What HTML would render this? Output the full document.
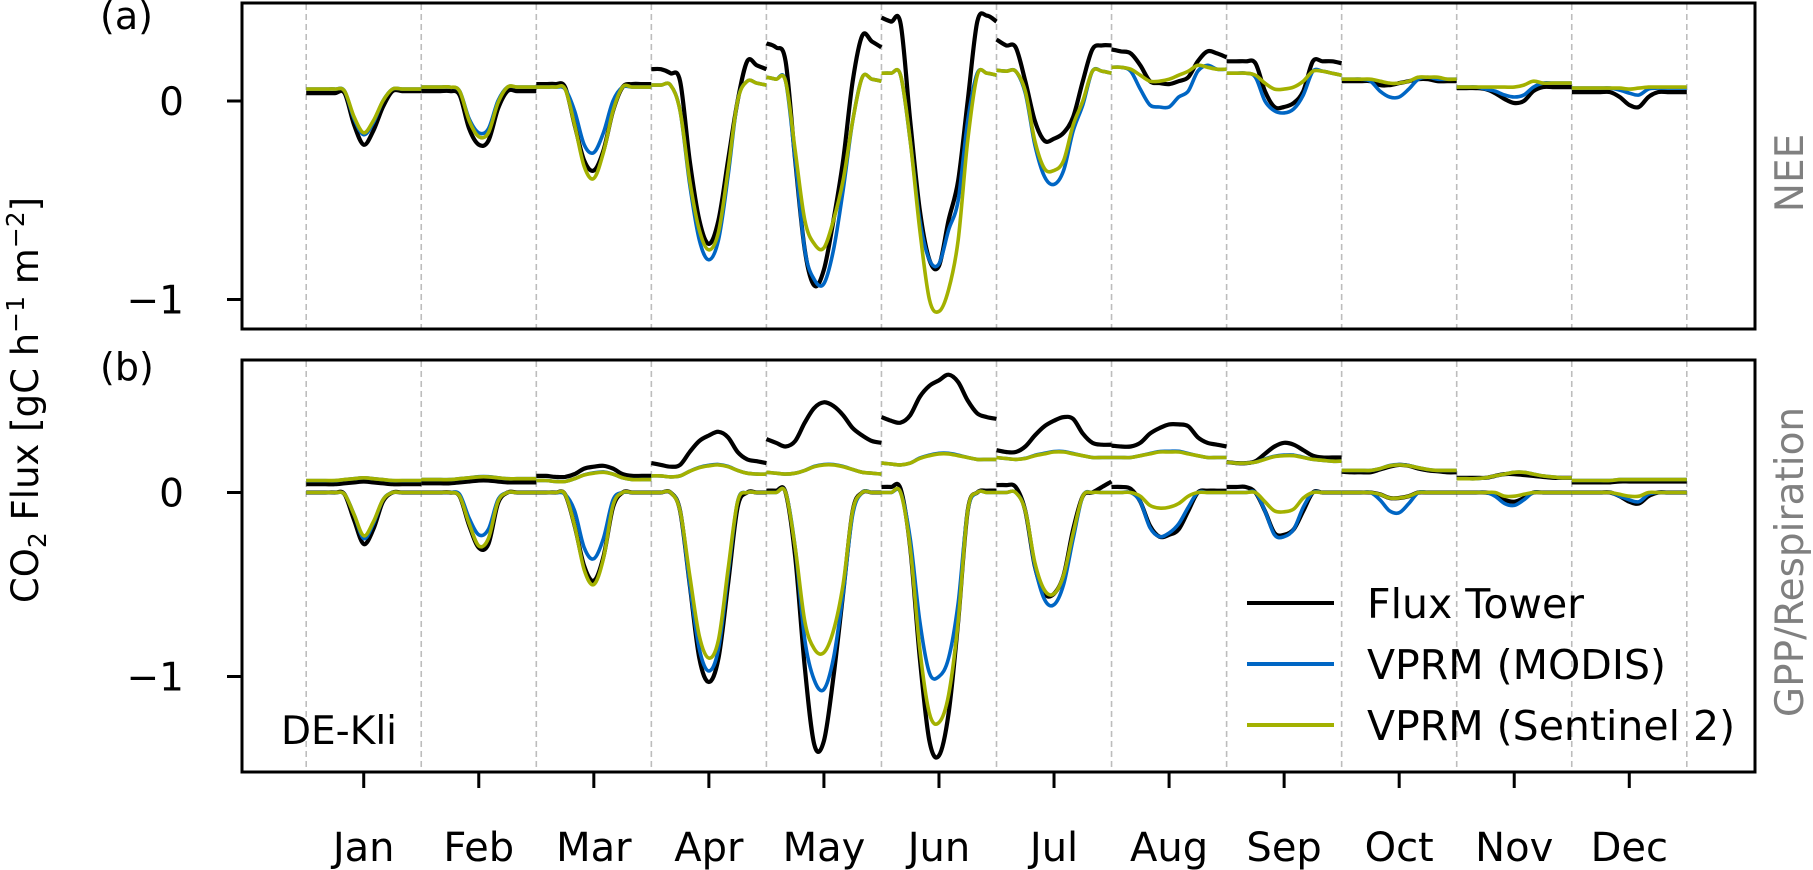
<!DOCTYPE html>
<html><head><meta charset="utf-8"><title>CO2 flux diurnal cycles DE-Kli</title>
<style>
html,body{margin:0;padding:0;background:#fff;}
svg{display:block;font-family:"DejaVu Sans","Liberation Sans",sans-serif;}
</style></head>
<body>
<svg id="chart" xmlns="http://www.w3.org/2000/svg" width="1813" height="870" viewBox="0 0 1813 870">
<g id="grid"></g>
<g id="series"></g>
<rect x="242" y="3" width="1513" height="326" fill="none" stroke="#000" stroke-width="3"/>
<rect x="242" y="360" width="1513" height="412" fill="none" stroke="#000" stroke-width="3"/>
<g id="axes"></g>
<text x="100" y="29" font-size="38">(a)</text>
<text x="100" y="380" font-size="38">(b)</text>
<text transform="translate(38,400) rotate(-90)" text-anchor="middle" font-size="37">CO<tspan font-size="25" dy="8">2</tspan><tspan dy="-8"> Flux [gC h</tspan><tspan font-size="25" dy="-14">−1</tspan><tspan dy="14"> m</tspan><tspan font-size="25" dy="-14">−2</tspan><tspan dy="14">]</tspan></text>
<text transform="translate(1803,173) rotate(-90)" text-anchor="middle" font-size="39" fill="#808080">NEE</text>
<text transform="translate(1803,562) rotate(-90)" text-anchor="middle" font-size="39" fill="#808080">GPP/Respiration</text>
<text x="281" y="744" font-size="39">DE-Kli</text>
<g>
<line x1="1247" y1="603" x2="1334" y2="603" stroke="#000" stroke-width="4"/>
<text x="1367" y="618" font-size="41">Flux Tower</text>
<line x1="1247" y1="664" x2="1334" y2="664" stroke="#0066c4" stroke-width="4"/>
<text x="1367" y="679" font-size="41">VPRM (MODIS)</text>
<line x1="1247" y1="725" x2="1334" y2="725" stroke="#a3b100" stroke-width="4"/>
<text x="1367" y="740" font-size="41">VPRM (Sentinel 2)</text>
</g>
</svg>
<script>
const months = ['Jan','Feb','Mar','Apr','May','Jun','Jul','Aug','Sep','Oct','Nov','Dec'];
const hours = [0,2,4,6,8,10,12,14,16,18,20,22,24];
const yTicks = [0,-1];
const yTickLabels = ['0','−1'];
// NEE panel (a)
const neeTower = [
[.04,.04,.04,.04,.04,-.12,-.22,-.15,-.03,.05,.05,.05,.05],
[.05,.05,.05,.05,.03,-.14,-.22,-.2,-.04,.05,.05,.05,.05],
[.085,.085,.085,.07,-.12,-.3,-.35,-.25,-.05,.07,.085,.085,.085],
[.16,.16,.14,.1,-.3,-.6,-.72,-.6,-.3,0,.2,.18,.16],
[.29,.27,.2,-.3,-.75,-.93,-.85,-.6,-.3,.1,.33,.3,.27],
[.42,.4,.39,-.1,-.55,-.8,-.83,-.6,-.4,0,.4,.43,.4],
[.31,.28,.27,.1,-.1,-.2,-.19,-.16,-.08,.1,.26,.28,.28],
[.26,.25,.24,.18,.1,.09,.085,.1,.12,.2,.25,.24,.22],
[.2,.2,.2,.19,.05,-.03,-.03,-.01,.05,.2,.2,.2,.19],
[.1,.1,.1,.1,.08,.08,.09,.1,.11,.11,.1,.1,.1],
[.065,.065,.065,.06,.04,.01,-.01,0,.05,.07,.07,.07,.07],
[.045,.045,.045,.045,.045,.02,-.02,-.03,.02,.045,.045,.045,.045]];
const neeModis = [
[.06,.06,.06,.06,.05,-.09,-.17,-.11,0,.06,.06,.06,.06],
[.07,.07,.07,.07,.05,-.09,-.16,-.14,0,.07,.07,.07,.07],
[.07,.07,.07,.06,-.05,-.22,-.26,-.16,0,.07,.07,.07,.07],
[.08,.08,.08,-.05,-.42,-.7,-.8,-.7,-.38,0,.1,.09,.08],
[.12,.11,.1,-.3,-.75,-.9,-.92,-.75,-.45,-.1,.12,.11,.1],
[.14,.14,.13,-.2,-.6,-.8,-.82,-.65,-.5,-.1,.14,.14,.13],
[.155,.15,.15,.04,-.22,-.38,-.42,-.35,-.15,-.02,.15,.15,.14],
[.17,.17,.15,.06,-.02,-.03,-.03,.02,.05,.15,.18,.16,.16],
[.14,.14,.14,.12,0,-.05,-.06,-.04,.03,.15,.15,.14,.13],
[.11,.11,.11,.1,.05,.02,.02,.06,.11,.12,.11,.11,.11],
[.07,.07,.07,.06,.05,.03,.02,.03,.07,.09,.09,.09,.09],
[.065,.065,.065,.065,.065,.055,.04,.03,.06,.065,.065,.065,.065]];
const neeSentinel = [
[.06,.06,.06,.06,.05,-.08,-.16,-.1,0,.06,.06,.06,.06],
[.07,.07,.07,.07,.05,-.1,-.18,-.16,-.01,.07,.07,.07,.07],
[.07,.07,.07,.06,-.12,-.33,-.39,-.26,-.05,.07,.07,.07,.07],
[.08,.08,.08,-.05,-.4,-.65,-.75,-.66,-.35,0,.1,.09,.08],
[.12,.11,.1,-.25,-.6,-.72,-.74,-.6,-.4,-.1,.12,.11,.1],
[.14,.14,.13,-.2,-.65,-1,-1.06,-.95,-.7,-.2,.13,.14,.13],
[.155,.15,.15,.05,-.2,-.34,-.35,-.3,-.12,0,.15,.15,.14],
[.17,.17,.16,.13,.1,.1,.11,.13,.15,.18,.17,.16,.16],
[.14,.14,.14,.13,.09,.06,.06,.07,.1,.15,.15,.14,.13],
[.11,.11,.11,.11,.1,.09,.09,.1,.12,.12,.12,.11,.11],
[.07,.07,.07,.07,.07,.07,.07,.08,.1,.09,.09,.09,.09],
[.065,.065,.065,.065,.065,.065,.06,.065,.07,.07,.07,.07,.07]];
// GPP panel (b)
const gppTower = [
[0,0,0,0,-.01,-.15,-.28,-.2,-.05,0,0,0,0],
[0,0,0,0,-.02,-.18,-.3,-.28,-.06,0,0,0,0],
[0,0,0,-.01,-.18,-.4,-.48,-.35,-.08,0,0,0,0],
[0,0,0,-.1,-.5,-.9,-1.03,-.9,-.5,-.08,0,0,0],
[.01,.01,0,-.35,-.95,-1.37,-1.35,-1,-.55,-.1,0,0,0],
[.03,.03,.02,-.3,-.9,-1.35,-1.43,-1.2,-.7,-.1,0,.01,.01],
[.04,.04,.03,-.1,-.4,-.55,-.55,-.45,-.2,-.02,0,.03,.06],
[.03,.03,.02,-.05,-.18,-.24,-.23,-.2,-.1,0,.01,.01,.01],
[.03,.03,.03,0,-.1,-.22,-.23,-.2,-.1,0,0,0,0],
[0,0,0,0,-.01,-.03,-.03,-.02,0,0,0,0,0],
[0,0,0,0,-.01,-.04,-.05,-.03,0,0,0,0,0],
[0,0,0,0,0,-.02,-.05,-.06,-.02,0,0,0,0]];
const gppModis = [
[0,0,0,0,-.01,-.12,-.25,-.17,-.04,0,0,0,0],
[0,0,0,0,-.01,-.14,-.23,-.2,-.04,0,0,0,0],
[0,0,0,-.01,-.1,-.3,-.36,-.25,-.04,0,0,0,0],
[0,0,0,-.1,-.5,-.85,-.97,-.85,-.45,-.05,0,0,0],
[0,0,0,-.3,-.8,-1.02,-1.07,-.9,-.55,-.12,0,0,0],
[0,0,0,-.25,-.7,-.98,-1,-.9,-.6,-.1,0,0,0],
[0,0,0,-.1,-.4,-.58,-.61,-.5,-.25,-.02,0,0,0],
[0,0,0,-.05,-.19,-.24,-.22,-.17,-.08,0,0,0,0],
[0,0,0,0,-.1,-.23,-.24,-.2,-.08,0,0,0,0],
[0,0,0,0,-.04,-.1,-.11,-.06,0,0,0,0,0],
[0,0,0,0,-.02,-.06,-.07,-.04,0,0,0,0,0],
[0,0,0,0,0,-.02,-.04,-.05,-.01,0,0,0,0]];
const gppSentinel = [
[0,0,0,0,-.01,-.12,-.235,-.16,-.04,0,0,0,0],
[0,0,0,0,-.02,-.17,-.29,-.25,-.05,0,0,0,0],
[0,0,0,-.01,-.18,-.42,-.5,-.36,-.07,0,0,0,0],
[0,0,0,-.1,-.45,-.78,-.9,-.8,-.42,-.05,0,0,0],
[0,0,0,-.3,-.7,-.85,-.87,-.75,-.5,-.1,0,0,0],
[0,0,0,-.3,-.85,-1.2,-1.25,-1.1,-.7,-.1,0,0,0],
[0,0,0,-.1,-.38,-.53,-.55,-.45,-.22,-.02,0,0,0],
[0,0,0,-.02,-.07,-.085,-.08,-.06,-.02,0,0,0,0],
[0,0,0,0,-.05,-.1,-.105,-.09,-.03,0,0,0,0],
[0,0,0,0,-.01,-.03,-.03,-.02,0,0,0,0,0],
[0,0,0,0,0,-.02,-.02,-.01,0,0,0,0,0],
[0,0,0,0,0,-.01,-.02,-.02,0,0,0,0,0]];
// Respiration panel (b)
const respTower = [
[.045,.045,.045,.045,.05,.055,.06,.055,.05,.045,.045,.045,.045],
[.05,.05,.05,.05,.055,.06,.065,.065,.06,.055,.055,.055,.055],
[.09,.09,.085,.085,.1,.13,.14,.145,.13,.1,.09,.09,.09],
[.16,.15,.14,.15,.22,.28,.31,.33,.3,.22,.18,.17,.16],
[.29,.27,.25,.28,.38,.46,.49,.47,.42,.35,.31,.28,.27],
[.41,.39,.38,.42,.52,.58,.61,.64,.6,.5,.43,.41,.4],
[.23,.22,.22,.25,.31,.36,.39,.41,.4,.32,.27,.26,.26],
[.255,.25,.25,.27,.32,.35,.37,.37,.36,.3,.27,.26,.25],
[.165,.16,.16,.17,.21,.25,.27,.26,.23,.2,.19,.19,.19],
[.113,.11,.11,.11,.125,.14,.15,.145,.13,.12,.115,.11,.11],
[.08,.08,.08,.08,.09,.1,.1,.095,.09,.085,.08,.08,.08],
[.055,.055,.055,.055,.055,.06,.06,.06,.06,.06,.06,.06,.06]];
const respModis = [
[.064,.064,.064,.064,.07,.075,.08,.075,.07,.064,.064,.064,.064],
[.07,.07,.07,.07,.075,.08,.086,.086,.08,.075,.075,.075,.075],
[.065,.065,.06,.06,.075,.096,.107,.112,.1,.08,.07,.07,.07],
[.09,.09,.085,.09,.116,.137,.148,.152,.142,.12,.105,.1,.1],
[.11,.105,.1,.105,.12,.142,.152,.152,.142,.125,.11,.105,.1],
[.16,.155,.15,.16,.187,.203,.213,.213,.203,.19,.18,.18,.18],
[.19,.185,.18,.186,.202,.213,.223,.223,.212,.2,.19,.19,.19],
[.19,.19,.19,.2,.212,.223,.224,.224,.212,.2,.19,.19,.19],
[.165,.16,.16,.165,.182,.197,.203,.203,.192,.18,.175,.17,.17],
[.12,.12,.12,.12,.13,.147,.152,.147,.135,.125,.12,.12,.12],
[.075,.075,.075,.08,.09,.1,.11,.11,.1,.09,.085,.08,.08],
[.065,.065,.065,.065,.065,.07,.07,.07,.07,.07,.07,.07,.07]];
const respSentinel = [
[.065,.065,.065,.065,.07,.075,.08,.075,.07,.065,.065,.065,.065],
[.07,.07,.07,.07,.075,.08,.085,.085,.08,.075,.075,.075,.075],
[.065,.065,.06,.06,.075,.095,.105,.11,.1,.08,.07,.07,.07],
[.09,.09,.085,.09,.115,.135,.145,.15,.14,.12,.105,.1,.1],
[.11,.105,.1,.105,.12,.14,.15,.15,.14,.125,.11,.105,.1],
[.16,.155,.15,.16,.185,.2,.21,.21,.2,.19,.18,.18,.18],
[.19,.185,.18,.185,.2,.21,.22,.22,.21,.2,.19,.19,.19],
[.19,.19,.19,.2,.21,.22,.22,.22,.21,.2,.19,.19,.19],
[.165,.16,.16,.165,.18,.195,.2,.2,.19,.18,.175,.17,.17],
[.12,.12,.12,.12,.13,.145,.15,.145,.135,.125,.12,.12,.12],
[.075,.075,.075,.08,.09,.1,.11,.11,.1,.09,.085,.08,.08],
[.065,.065,.065,.065,.065,.07,.07,.07,.07,.07,.07,.07,.07]];

const NS = 'http://www.w3.org/2000/svg';
const X0 = 306.2, MW = 115.05;
function xMonth(m, h){ return X0 + MW*m + MW*h/24; }
function yTop(v){ return 101 - 198.5*v; }
function yBot(v){ return 492.5 - 184*v; }
function mk(tag, attrs, parent){
  const el = document.createElementNS(NS, tag);
  for (const k in attrs) el.setAttribute(k, attrs[k]);
  parent.appendChild(el);
  return el;
}
function pathFor(m, vals, yf){
  const pts = vals.map((v,i)=>[xMonth(m, hours[i]), yf(v)]);
  let d = 'M'+pts[0][0].toFixed(1)+','+pts[0][1].toFixed(1);
  for (let i=0;i<pts.length-1;i++){
    const p0 = pts[Math.max(0,i-1)], p1 = pts[i], p2 = pts[i+1], p3 = pts[Math.min(pts.length-1,i+2)];
    const c1x = p1[0]+(p2[0]-p0[0])/6, c1y = p1[1]+(p2[1]-p0[1])/6;
    const c2x = p2[0]-(p3[0]-p1[0])/6, c2y = p2[1]-(p3[1]-p1[1])/6;
    d += ' C'+c1x.toFixed(1)+','+c1y.toFixed(1)+' '+c2x.toFixed(1)+','+c2y.toFixed(1)+' '+p2[0].toFixed(1)+','+p2[1].toFixed(1);
  }
  return d;
}
const grid = document.getElementById('grid');
for (let k=0;k<=months.length;k++){
  const x = X0 + MW*k;
  [[4,328],[361,771]].forEach(([a,b])=>{
    const l = mk('line',{x1:x,y1:a,x2:x,y2:b,stroke:'#bdbdbd','stroke-width':1.6,'stroke-dasharray':'6,4'},grid);
    
    
  });
}
const ser = document.getElementById('series');
const layers = [
  [neeTower,'#000',yTop,'nee-flux-tower'],
  [neeModis,'#0066c4',yTop,'nee-vprm-modis'],
  [neeSentinel,'#a3b100',yTop,'nee-vprm-sentinel2'],
  [respTower,'#000',yBot,'resp-flux-tower'],
  [gppTower,'#000',yBot,'gpp-flux-tower'],
  [respModis,'#0066c4',yBot,'resp-vprm-modis'],
  [gppModis,'#0066c4',yBot,'gpp-vprm-modis'],
  [respSentinel,'#a3b100',yBot,'resp-vprm-sentinel2'],
  [gppSentinel,'#a3b100',yBot,'gpp-vprm-sentinel2']];
layers.forEach(([arr,col,yf,name])=>{
  arr.forEach((vals,m)=>{
    const p = mk('path',{d:pathFor(m,vals,yf),fill:'none',stroke:col,'stroke-width':col==='#000'?4.2:3.6,'stroke-linejoin':'round'},ser);
    
    
  });
});
const ax = document.getElementById('axes');
yTicks.forEach((v,i)=>{
  [yTop,yBot].forEach((yf,pi)=>{
    const y = yf(v);
    const t = mk('line',{x1:227,y1:y,x2:242,y2:y,stroke:'#000','stroke-width':3},ax);
    
    
    const tx = mk('text',{x:184,y:y+14,'text-anchor':'end','font-size':39},ax);
    tx.textContent = yTickLabels[i];
    
    
  });
});
months.forEach((mn,m)=>{
  const x = xMonth(m,12);
  const t = mk('line',{x1:x,y1:772,x2:x,y2:788,stroke:'#000','stroke-width':3},ax);
  
  
  const tx = mk('text',{x:x,y:861,'text-anchor':'middle','font-size':40},ax);
  tx.textContent = mn;
  
  
});
</script>
</body></html>
